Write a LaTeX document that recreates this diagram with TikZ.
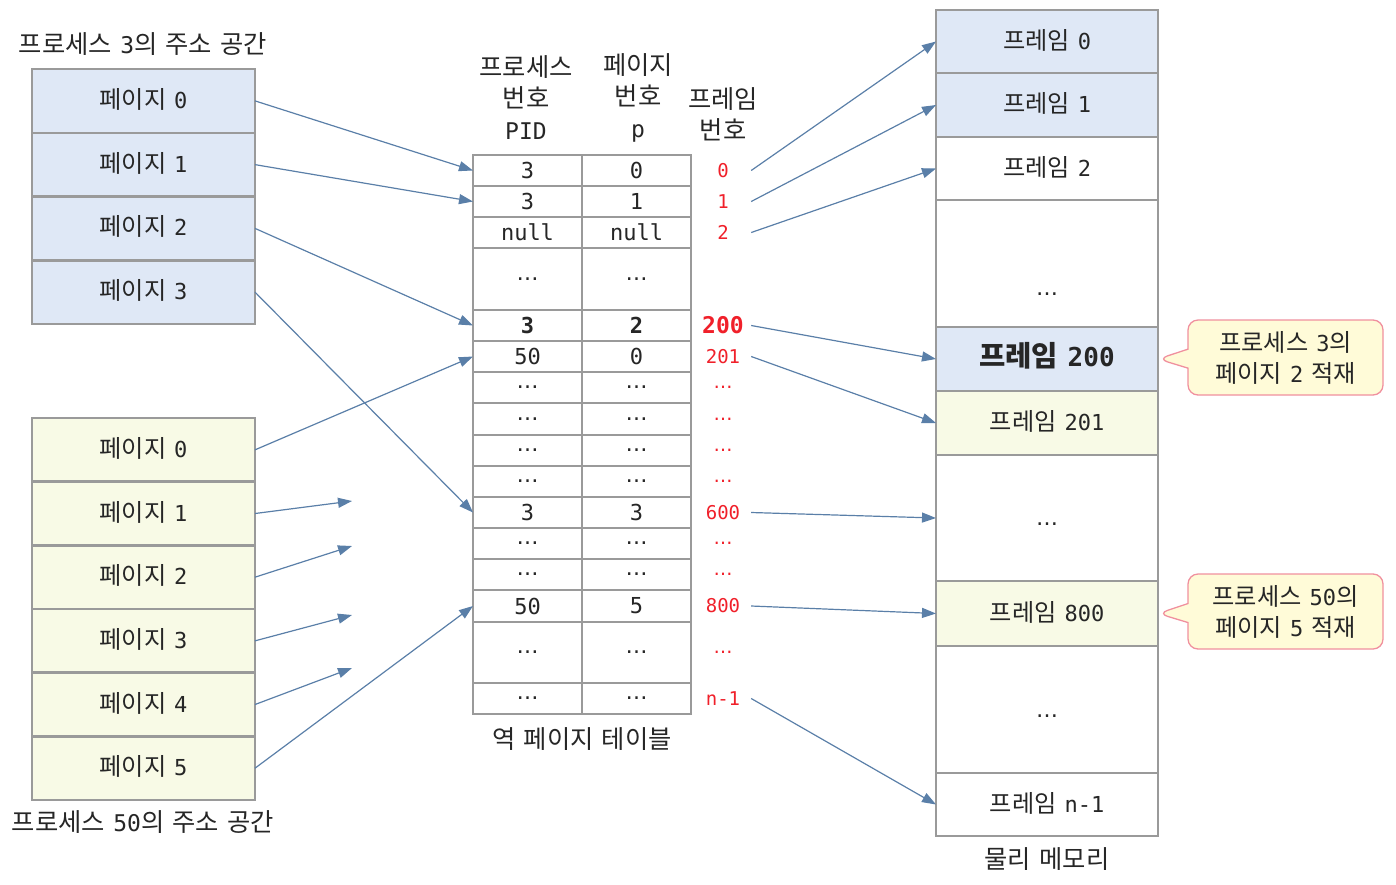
\documentclass[tikz,border=0pt]{standalone}
\usepackage{fontspec}
\setmainfont{DejaVu Sans Mono}[WordSpace=0.6]
\newfontfamily\ko{Noto Sans CJK KR}[Scale=1.1]
\newfontfamily\dvs{DejaVu Sans}
\newcommand\KR[1]{{\ko #1}}
\newcommand\ellip{{\dvs …}}
\usetikzlibrary{arrows.meta,shapes.callouts}
\definecolor{bluefill}{HTML}{DFE8F6}
\definecolor{yelfill}{HTML}{F8FAE6}
\definecolor{bordergray}{HTML}{9A9A9A}
\definecolor{arrowblue}{HTML}{5A7FA8}
\definecolor{labelred}{HTML}{F0202A}
\definecolor{calloutfill}{HTML}{FFFBD8}
\definecolor{calloutline}{HTML}{F0909E}
\definecolor{txt}{HTML}{262626}
\begin{document}
\begin{tikzpicture}[x=1pt,y=-1pt,
  every node/.style={text=txt, font=\fontsize{22}{26}\selectfont},
  cellbox/.style={draw=bordergray, line width=2.5pt, inner sep=0pt, outer sep=0pt,
    anchor=north west, minimum width=#1},
  kt/.style={text height=19pt, text depth=4pt},
  blueb/.style={cellbox=223pt, fill=bluefill, kt},
  yelb/.style={cellbox=223pt, fill=yelfill, kt},
  tcell/.style={cellbox=109pt, fill=white},
  memb/.style={cellbox=222pt, kt},
  redlab/.style={text=labelred, font=\fontsize{19}{22}\selectfont, inner sep=0pt, minimum width=56pt},
  title/.style={font=\fontsize{23}{27}\selectfont, text=txt},
  header/.style={align=center, font=\fontsize{23}{31.5}\selectfont},
  arr/.style={draw=arrowblue, line width=1.2pt, -{Triangle[length=14pt,width=10pt]}},
  note/.style={rectangle callout, draw=calloutline, fill=calloutfill, line width=1.3pt,
    rounded corners=10pt, minimum width=195pt, minimum height=75pt, inner sep=0pt,
    callout pointer width=19pt, align=center, font=\fontsize{22}{31}\selectfont}
]
\useasboundingbox (0,0) rectangle (1396,884);

% process 3 address space
\node[title] (t3) at (143,44) {\KR{프로세스} 3\KR{의} \KR{주소} \KR{공간}};
\foreach \k in {0,...,3}{
  \node[blueb, minimum height=63.75pt] (a\k) at (32,{69+63.75*\k}) {\KR{페이지} \k};
}

% process 50 address space
\foreach \k in {0,...,5}{
  \node[yelb, minimum height=63.67pt] (b\k) at (32,{418+63.67*\k}) {\KR{페이지} \k};
}
\node[title] (t50) at (143,822) {\KR{프로세스} 50\KR{의} \KR{주소} \KR{공간}};

% inverted page table headers
\node[header] (hpid) at (526,97.5) {\KR{프로세스}\\\KR{번호}\\PID};
\node[header] (hpg) at (638,97.5) {\KR{페이지}\\\KR{번호}\\p};
\node[header] (hfr) at (723,114.5) {\KR{프레임}\\\KR{번호}};

% table rows
\foreach \t/\b/\pid/\pg/\fr [count=\i] in {
  155/186/3/0/0,
  186/217/3/1/1,
  217/248/null/null/2,
  248/310/\ellip/\ellip/{},
  310/341/{\bfseries 3}/{\bfseries 2}/{\fontsize{23}{26}\selectfont\bfseries 200},
  341/372/50/0/201,
  372/403/\ellip/\ellip/\ellip,
  403/435/\ellip/\ellip/\ellip,
  435/466/\ellip/\ellip/\ellip,
  466/497/\ellip/\ellip/\ellip,
  497/528/3/3/600,
  528/559/\ellip/\ellip/\ellip,
  559/590/\ellip/\ellip/\ellip,
  590/622/50/5/800,
  622/683/\ellip/\ellip/\ellip,
  683/714/\ellip/\ellip/n-1}{
  \node[tcell, minimum height={\b-\t}] (p\i) at (473,\t) {\pid};
  \node[tcell, minimum height={\b-\t}] (g\i) at (582,\t) {\pg};
  \node[redlab] (r\i) at (723,{(\t+\b)/2}) {\fr};
}
\node[title] (tcap) at (582,739) {\KR{역} \KR{페이지} \KR{테이블}};

% physical memory
\node[memb, fill=bluefill, minimum height=63pt] (m0) at (936,10) {\KR{프레임} 0};
\node[memb, fill=bluefill, minimum height=64pt] (m1) at (936,73) {\KR{프레임} 1};
\node[memb, fill=white, minimum height=63pt] (m2) at (936,137) {\KR{프레임} 2};
\node[memb, fill=white, minimum height=127pt] (md1) at (936,200) {\raisebox{-24pt}{\ellip}};
\node[memb, fill=bluefill, minimum height=64pt, font=\fontsize{26}{30}\selectfont] (m200) at (936,327) {\bfseries\KR{프레임} 200};
\node[memb, fill=yelfill, minimum height=64pt] (m201) at (936,391) {\KR{프레임} 201};
\node[memb, fill=white, minimum height=126pt] (md2) at (936,455) {\ellip};
\node[memb, fill=yelfill, minimum height=65pt] (m800) at (936,581) {\KR{프레임} 800};
\node[memb, fill=white, minimum height=127pt] (md3) at (936,646) {\ellip};
\node[memb, fill=white, minimum height=63pt] (mn) at (936,773) {\KR{프레임} n-1};
\node[title] (mcap) at (1047,859) {\KR{물리} \KR{메모리}};

% callouts
\node[note, callout absolute pointer={(m200.east)}] (c1) at (1285.5,357.5)
  {\KR{프로세스} 3\KR{의}\\\KR{페이지} 2 \KR{적재}};
\node[note, callout absolute pointer={(m800.east)}] (c2) at (1285.5,611.5)
  {\KR{프로세스} 50\KR{의}\\\KR{페이지} 5 \KR{적재}};

% arrows: process 3 -> table
\draw[arr] (a0.east) -- (p1.west);
\draw[arr] (a1.east) -- (p2.west);
\draw[arr] (a2.east) -- (p5.west);
\draw[arr] (a3.east) -- (p11.west);

% arrows: process 50 -> table
\coordinate (e1) at (352,501);
\coordinate (e2) at (352,546);
\coordinate (e3) at (352,615);
\coordinate (e4) at (352,668);
\draw[arr] (b0.east) -- (p6.west);
\draw[arr] (b1.east) -- (e1);
\draw[arr] (b2.east) -- (e2);
\draw[arr] (b3.east) -- (e3);
\draw[arr] (b4.east) -- (e4);
\draw[arr] (b5.east) -- (p14.west);

% arrows: table -> memory
\draw[arr] (r1.east) -- (m0.west);
\draw[arr] (r2.east) -- (m1.west);
\draw[arr] (r3.east) -- (m2.west);
\draw[arr] (r5.east) -- (m200.west);
\draw[arr] (r6.east) -- (m201.west);
\draw[arr] (r11.east) -- (md2.west);
\draw[arr] (r14.east) -- (m800.west);
\draw[arr] (r16.east) -- (mn.west);
\end{tikzpicture}
\end{document}
